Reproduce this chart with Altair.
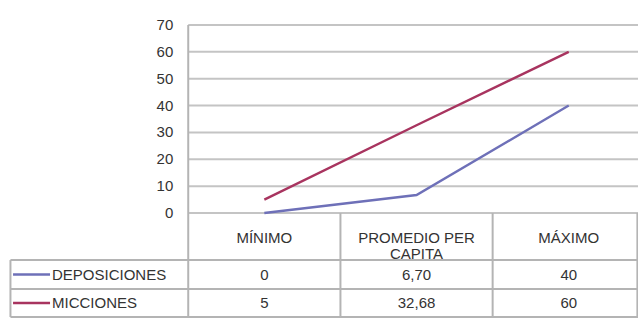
import altair as alt
import pandas as pd

# ---- data ----
categories = ["MÍNIMO", "PROMEDIO PER CAPITA", "MÁXIMO"]
header_text = ["MÍNIMO", "PROMEDIO  PER\nCAPITA", "MÁXIMO"]
series_names = ["DEPOSICIONES", "MICCIONES"]
deposiciones = [0, 6.70, 40]
micciones = [5, 32.68, 60]
deposiciones_labels = ["0", "6,70", "40"]
micciones_labels = ["5", "32,68", "60"]
y_ticks = [0, 10, 20, 30, 40, 50, 60, 70]
colors = ["#6e70b8", "#a8345f"]

# ---- layout constants (data units of the shared scales) ----
X_MIN, X_MAX = -1.671, 2.455
Y_MIN, Y_MAX = -38.7, 70
PLOT_LEFT = -0.5
HEADER_Y = -9.3
ROW_Y = [-22.9, -33.5]
ROW_LINES = [-17.5, -28.3, -38.7]
LEG_SYM = (-1.651, -1.408)
LEG_TEXT_X = -1.395

FONT = "Liberation Sans"
FS = 15
TXT = "#333333"
GRID = "#c4c4c4"
BORDER = "#b4b4b4"

xs = alt.Scale(domain=[X_MIN, X_MAX], nice=False, zero=False)
ys = alt.Scale(domain=[Y_MIN, Y_MAX], nice=False, zero=False)


def X(f):
    return alt.X(f, type="quantitative", scale=xs, axis=None)


def Y(f):
    return alt.Y(f, type="quantitative", scale=ys, axis=None)


# series table
rows = []
for s, vals, labs, ry in zip(series_names, [deposiciones, micciones],
                             [deposiciones_labels, micciones_labels], ROW_Y):
    for i, (v, l) in enumerate(zip(vals, labs)):
        rows.append({"series": s, "idx": i, "value": v, "label": l, "rowy": ry})
df = pd.DataFrame(rows)

legend_df = pd.DataFrame({"series": series_names, "rowy": ROW_Y,
                          "x": LEG_SYM[0], "x2": LEG_SYM[1], "tx": LEG_TEXT_X})
header_df = pd.DataFrame({"idx": list(range(len(categories))), "text": header_text,
                          "y": HEADER_Y})

color = alt.Color("series:N", scale=alt.Scale(domain=series_names, range=colors),
                  legend=None)

grid_df = pd.DataFrame({"y": y_ticks, "x": PLOT_LEFT, "x2": X_MAX})
grid = alt.Chart(grid_df).mark_rule(color=GRID, strokeWidth=2).encode(
    x=X("x"), x2="x2", y=Y("y"))

ylab = alt.Chart(grid_df).mark_text(align="right", baseline="middle", dx=-15,
                                    font=FONT, fontSize=FS, color=TXT).encode(
    x=X("x"), y=Y("y"), text=alt.Text("y:Q"))

# table borders
segs = []
for yl in ROW_LINES:
    segs.append({"x": X_MIN + 0.003, "x2": X_MAX, "y": yl, "y2": yl})
segs.append({"x": X_MIN + 0.003, "x2": X_MIN + 0.003, "y": ROW_LINES[0], "y2": Y_MIN})
segs.append({"x": PLOT_LEFT, "x2": PLOT_LEFT, "y": Y_MAX, "y2": Y_MIN})
for b in [0.5, 1.5]:
    segs.append({"x": b, "x2": b, "y": 0, "y2": Y_MIN})
segs.append({"x": X_MAX - 0.004, "x2": X_MAX - 0.004, "y": 0, "y2": Y_MIN})
seg_df = pd.DataFrame(segs)
borders = alt.Chart(seg_df).mark_rule(color=BORDER, strokeWidth=2).encode(
    x=X("x"), x2="x2", y=Y("y"), y2="y2")

lines = alt.Chart(df).mark_line(strokeWidth=2.4).encode(
    x=X("idx"), y=Y("value"), color=color, detail="series:N")

headers = alt.Chart(header_df).mark_text(
    align="center", baseline="middle", lineBreak="\n", lineHeight=16,
    font=FONT, fontSize=FS, color=TXT).encode(
    x=X("idx"), y=Y("y"), text="text:N")

values = alt.Chart(df).mark_text(
    align="center", baseline="middle", font=FONT, fontSize=FS, color=TXT).encode(
    x=X("idx"), y=Y("rowy"), text="label:N")

leg_sym = alt.Chart(legend_df).mark_rule(strokeWidth=2.4).encode(
    x=X("x"), x2="x2", y=Y("rowy"), color=color)

leg_txt = alt.Chart(legend_df).mark_text(
    align="left", baseline="middle", font=FONT, fontSize=FS, color=TXT).encode(
    x=X("tx"), y=Y("rowy"), text="series:N")

chart = alt.layer(grid, borders, lines, ylab, headers, values, leg_sym, leg_txt).properties(
    width=628, height=292,
    padding={"left": 10, "top": 25, "right": 0, "bottom": 4},
    autosize=alt.AutoSizeParams(type="none"),
    background="white",
).configure_view(stroke=None)

chart.save("out.html", embed_options={"renderer": "svg", "actions": False})
